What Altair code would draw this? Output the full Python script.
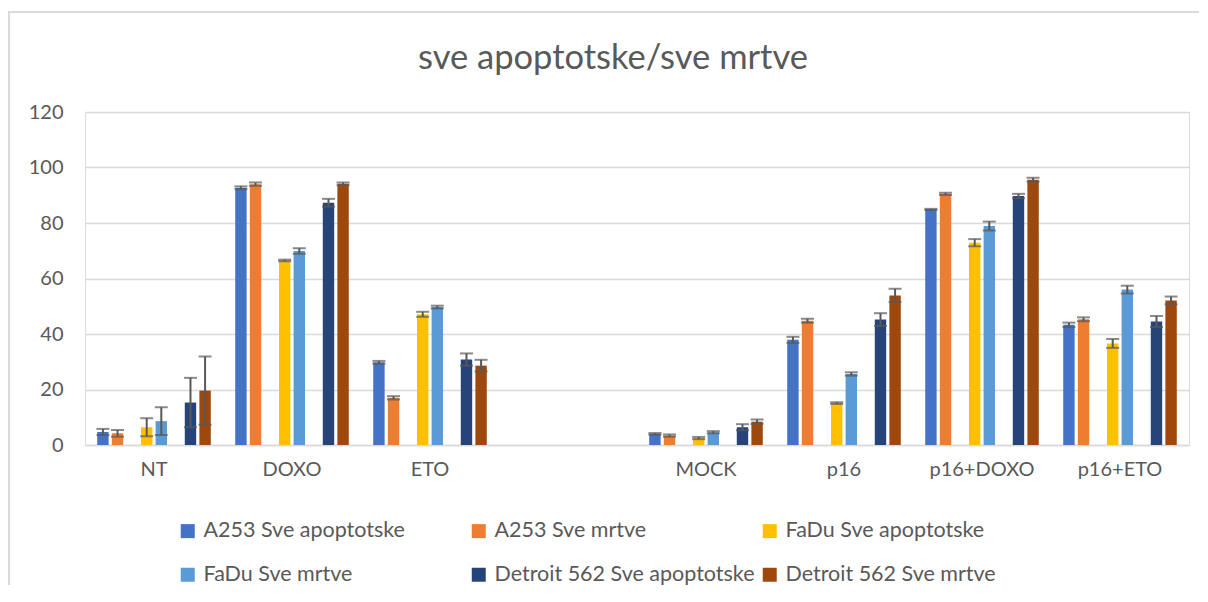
import altair as alt
import pandas as pd

title_text = "sve apoptotske/sve mrtve"
categories = ["NT", "DOXO", "ETO", " ", "MOCK", "p16", "p16+DOXO", "p16+ETO"]
data_categories = ["NT", "DOXO", "ETO", "MOCK", "p16", "p16+DOXO", "p16+ETO"]

series = [
    "A253 Sve apoptotske", "A253 Sve mrtve",
    "FaDu Sve apoptotske", "FaDu Sve mrtve",
    "Detroit 562 Sve apoptotske", "Detroit 562 Sve mrtve",
]
slots = [
    "A253 Sve apoptotske", "A253 Sve mrtve", "_gap1",
    "FaDu Sve apoptotske", "FaDu Sve mrtve", "_gap2",
    "Detroit 562 Sve apoptotske", "Detroit 562 Sve mrtve",
]
colors = ["#4472C4", "#ED7D31", "#FFC000", "#5B9BD5", "#264478", "#9E480E"]

a253_apo = [4.7, 92.7, 29.8, 4.0, 37.9, 84.9, 43.3]
a253_apo_err = [1.1, 0.5, 0.5, 0.3, 1.1, 0.2, 0.8]
a253_mrt = [4.2, 94.0, 17.0, 3.4, 44.8, 90.5, 45.3]
a253_mrt_err = [1.2, 0.6, 0.6, 0.4, 0.7, 0.4, 0.7]
fadu_apo = [6.4, 66.5, 47.1, 2.5, 15.1, 72.9, 36.6]
fadu_apo_err = [3.25, 0.3, 0.9, 0.4, 0.3, 1.3, 1.6]
fadu_mrt = [8.6, 69.9, 49.7, 4.6, 25.6, 78.9, 56.0]
fadu_mrt_err = [5.0, 1.0, 0.5, 0.4, 0.6, 1.6, 1.4]
det_apo = [15.3, 87.3, 30.8, 6.4, 45.2, 89.7, 44.5]
det_apo_err = [8.9, 1.4, 2.2, 1.1, 2.3, 0.8, 2.0]
det_mrt = [19.6, 94.1, 28.6, 8.4, 53.9, 95.6, 52.1]
det_mrt_err = [12.3, 0.5, 2.1, 0.8, 2.4, 0.7, 1.4]

values = [a253_apo, a253_mrt, fadu_apo, fadu_mrt, det_apo, det_mrt]
errors = [a253_apo_err, a253_mrt_err, fadu_apo_err, fadu_mrt_err, det_apo_err, det_mrt_err]

rows = []
for s, vals, errs in zip(series, values, errors):
    for c, v, e in zip(data_categories, vals, errs):
        rows.append({"cat": c, "series": s, "value": v, "lo": v - e, "hi": v + e})
df = pd.DataFrame(rows)

FONT = "Lato"
TXT = "#595959"
GRID = "#D9D9D9"
ERR = "#595959"

x_enc = alt.X("cat:N", sort=categories,
              scale=alt.Scale(domain=categories, paddingInner=0.154, paddingOuter=0.077),
              axis=alt.Axis(title=None, labelAngle=0, ticks=False, domainColor=GRID,
                            domainWidth=1.5, labelPadding=14, labelFontSize=20,
                            labelColor=TXT, labelFont=FONT, grid=False))
xo_enc = alt.XOffset("series:N", scale=alt.Scale(domain=slots, paddingInner=0.22, paddingOuter=0.11))

base = alt.Chart(df)

bars = base.mark_bar(width=11.4).encode(
    x=x_enc,
    xOffset=xo_enc,
    y=alt.Y("value:Q", scale=alt.Scale(domain=[0, 120]),
            axis=alt.Axis(title=None, values=[0, 20, 40, 60, 80, 100, 120], ticks=False,
                          domain=False, gridColor=GRID, gridWidth=1.5, labelPadding=22,
                          labelFontSize=20, labelColor=TXT, labelFont=FONT)),
    color=alt.Color("series:N", scale=alt.Scale(domain=series, range=colors),
                    legend=alt.Legend(title=None, orient="none", legendX=92, legendY=408,
                                      direction="horizontal", columns=3, gridAlign="all",
                                      columnPadding=4, rowPadding=21,
                                      symbolType="square", symbolSize=196,
                                      symbolStrokeWidth=0, labelFontSize=21.5,
                                      labelFont=FONT, labelColor=TXT, labelOffset=5,
                                      labelLimit=400)),
)

rule = base.mark_rule(color=ERR, strokeWidth=2).encode(
    x=alt.X("cat:N", sort=categories), xOffset="series:N",
    y="lo:Q", y2="hi:Q",
)
cap_hi = base.mark_tick(color=ERR, thickness=2, size=13).encode(
    x=alt.X("cat:N", sort=categories), xOffset="series:N", y="hi:Q",
)
cap_lo = base.mark_tick(color=ERR, thickness=2, size=13).encode(
    x=alt.X("cat:N", sort=categories), xOffset="series:N", y="lo:Q",
)

one = pd.DataFrame({"k": [0]})
border_top = alt.Chart(one).mark_rule(color=GRID, strokeWidth=2).encode(
    x=alt.value(-77), x2=alt.value(1140), y=alt.value(-100)
)
border_left = alt.Chart(one).mark_rule(color=GRID, strokeWidth=2).encode(
    x=alt.value(-76), y=alt.value(-100), y2=alt.value(500)
)
title = alt.Chart(pd.DataFrame({"t": [title_text]})).mark_text(
    font=FONT, fontSize=34.5, color=TXT, align="center", baseline="alphabetic"
).encode(text="t:N", x=alt.value(528), y=alt.value(-43))

chart = alt.layer(border_top, border_left, title, bars, rule, cap_hi, cap_lo).properties(
    width=1104, height=333,
    padding={"left": 77, "top": 104, "right": 10, "bottom": 140},
    autosize=alt.AutoSizeParams(type="none"),
).configure_view(stroke=None).configure(background="white")

chart.save("out.html", embed_options={"renderer": "svg", "actions": False})
